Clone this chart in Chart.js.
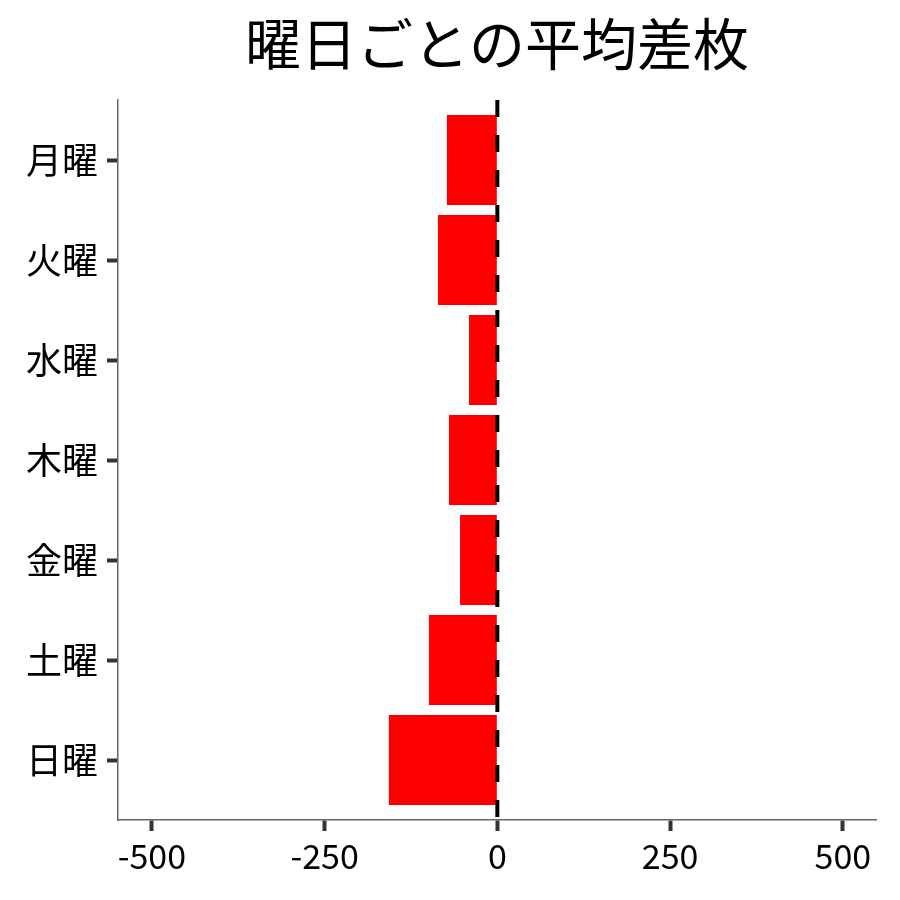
<!DOCTYPE html>
<html>
<head>
<meta charset="utf-8">
<script src="https://cdn.jsdelivr.net/npm/chart.js@4/dist/chart.umd.min.js"></script>
<style>
body{margin:0;background:#fff}
#wrap{width:900px;height:900px}
</style>
</head>
<body>
<div id="wrap"><canvas id="chart" width="900" height="900"></canvas></div>
<script>
const days = ["月曜","火曜","水曜","木曜","金曜","土曜","日曜"]
const avgDiff = [-73,-86,-41,-70,-54,-99,-157]
const xTicks = [-500,-250,0,250,500]
const chartTitle = "曜日ごとの平均差枚"

const FONT = "'Noto Sans CJK JP', 'Noto Sans', sans-serif"

const extras = {
id:"extras",
afterDatasetsDraw(chart){
const ctx = chart.ctx
const area = chart.chartArea
const x0 = chart.scales.x.getPixelForValue(0)
ctx.save()
ctx.strokeStyle = "#000"
ctx.lineWidth = 4
ctx.setLineDash([17,18])
ctx.beginPath()
ctx.moveTo(x0, area.top)
ctx.lineTo(x0, area.bottom)
ctx.stroke()
ctx.restore()
},
afterDraw(chart){
const ctx = chart.ctx
const area = chart.chartArea
ctx.save()
ctx.fillStyle = "#000"
ctx.font = "56px " + FONT
ctx.textAlign = "center"
ctx.textBaseline = "middle"
ctx.fillText(chartTitle, (area.left + area.right) / 2, 44)
ctx.restore()
}
}

new Chart(document.getElementById("chart").getContext("2d"),{
type:"bar",
data:{
datasets:[{
data: avgDiff.map((v,i)=>({x:v,y:i})),
backgroundColor:"#FF0000",
borderWidth:0,
categoryPercentage:1,
barPercentage:0.9
}]
},
options:{
responsive:false,
animation:false,
devicePixelRatio:1,
indexAxis:"y",
layout:{padding:{top:100,right:24,left:0,bottom:0}},
plugins:{legend:{display:false},tooltip:{enabled:false},title:{display:false}},
scales:{
x:{
type:"linear",
offset:false,
min:-549,
max:548,
afterBuildTicks(s){ s.ticks = xTicks.map(v=>({value:v})) },
afterFit(s){ s.height = 80 },
grid:{offset:false,drawOnChartArea:false,drawTicks:true,tickLength:11,tickWidth:4,tickColor:"#333"},
border:{display:true,color:"#666",width:1.5},
ticks:{color:"#000",padding:5,font:{size:34,family:FONT}}
},
y:{
type:"linear",
offset:false,
reverse:true,
min:-0.6,
max:6.6,
afterBuildTicks(s){ s.ticks = days.map((d,i)=>({value:i})) },
afterFit(s){ s.width = 118 },
grid:{offset:false,drawOnChartArea:false,drawTicks:true,tickLength:11,tickWidth:4,tickColor:"#333"},
border:{display:true,color:"#666",width:1.5},
ticks:{color:"#000",padding:9,font:{size:36,family:FONT},callback:(v)=>days[v]}
}
}
},
plugins:[extras]
})
</script>
</body>
</html>
